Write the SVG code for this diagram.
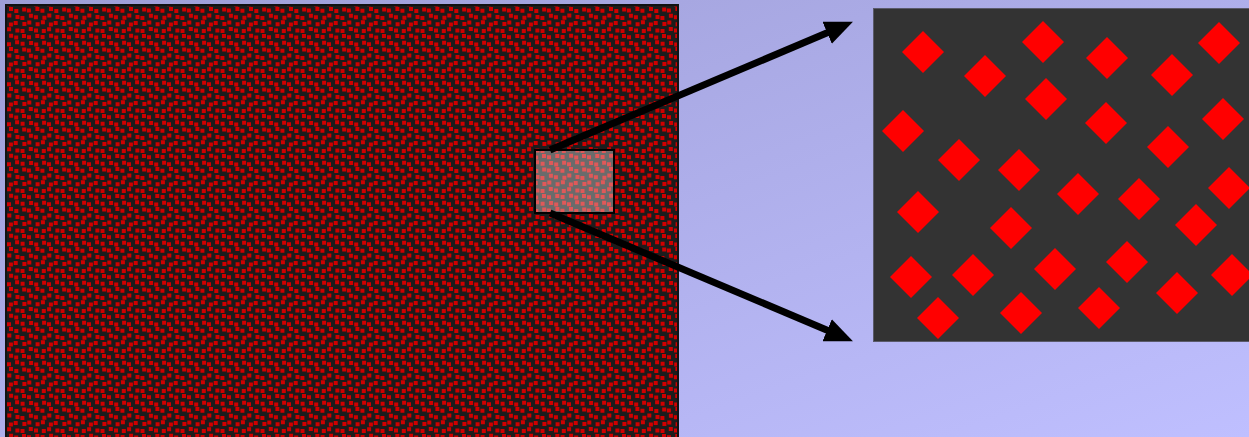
<svg xmlns="http://www.w3.org/2000/svg" width="1249" height="437" viewBox="0 0 1249 437">
  <defs>
    <linearGradient id="bg" x1="0" y1="0" x2="1" y2="1">
      <stop offset="0" stop-color="#9e9ed6"/>
      <stop offset="1" stop-color="#bfbfff"/>
    </linearGradient>
    <filter id="soft" x="-5%" y="-5%" width="110%" height="110%">
      <feGaussianBlur stdDeviation="0.6"/>
    </filter>
    <pattern id="dots" x="0" y="0" width="40" height="40" patternUnits="userSpaceOnUse">
      <rect width="40" height="40" fill="#1c1c1c"/>
      <path filter="url(#soft)" fill="#d00000" d="M2.1 0.8h4v4h-4z M7.0 2.2h4v4h-4z M15.1 0.3h4v4h-4z M20.6 1.7h4v4h-4z M29.1 1.1h4v4h-4z M34.2 2.4h4v4h-4z M0.4 8.7h4v4h-4z M9.0 7.1h4v4h-4z M14.3 9.1h4v4h-4z M22.2 7.6h4v4h-4z M26.9 8.5h4v4h-4z M35.4 7.0h4v4h-4z M2.4 15.7h4v4h-4z M7.3 13.6h4v4h-4z M15.5 14.9h4v4h-4z M20.4 15.9h4v4h-4z M28.9 13.8h4v4h-4z M33.9 15.2h4v4h-4z M0.9 20.3h4v4h-4z M8.9 22.4h4v4h-4z M13.7 21.0h4v4h-4z M22.4 21.9h4v4h-4z M27.3 20.5h4v4h-4z M35.6 22.3h4v4h-4z M1.8 28.9h4v4h-4z M7.1 27.2h4v4h-4z M15.4 28.6h4v4h-4z M20.5 29.0h4v4h-4z M28.8 27.1h4v4h-4z M34.0 28.4h4v4h-4z M0.6 35.1h4v4h-4z M9.1 33.7h4v4h-4z M14.2 35.5h4v4h-4z M22.0 34.0h4v4h-4z M27.0 35.3h4v4h-4z M35.3 33.9h4v4h-4z"/>
    </pattern>
    <polygon id="dia" points="0,-21 21,0 0,21 -21,0" fill="#ff0000"/>
    <marker id="head" viewBox="0 0 28 24" markerUnits="userSpaceOnUse" markerWidth="28" markerHeight="24" refX="2" refY="12" orient="auto">
      <path d="M0,0 L28,12 L0,24 z" fill="#000"/>
    </marker>
    <style>
      .conn { stroke: #000; stroke-width: 7; fill: none; marker-end: url(#head); }
    </style>
  </defs>

  <rect width="1249" height="437" fill="url(#bg)"/>

  <g id="source">
    <rect x="6" y="5" width="672" height="440" fill="url(#dots)" stroke="#111" stroke-width="2"/>
  </g>

  <g id="highlight">
    <rect x="535" y="150" width="79" height="63" fill="#ffffff" fill-opacity="0.35" stroke="#000" stroke-width="2"/>
  </g>

  <g id="zoom-panel">
    <rect x="873.5" y="8.5" width="390" height="333" fill="#333333" stroke="#5a5a6a" stroke-width="1"/>
    <g>
      <use href="#dia" x="923" y="52"/>
      <use href="#dia" x="985" y="76"/>
      <use href="#dia" x="1043" y="42"/>
      <use href="#dia" x="1107" y="58"/>
      <use href="#dia" x="1172" y="75"/>
      <use href="#dia" x="1219" y="43"/>
      <use href="#dia" x="1046" y="99"/>
      <use href="#dia" x="903" y="131"/>
      <use href="#dia" x="959" y="160"/>
      <use href="#dia" x="1019" y="170"/>
      <use href="#dia" x="1106" y="123"/>
      <use href="#dia" x="1168" y="147"/>
      <use href="#dia" x="1223" y="119"/>
      <use href="#dia" x="918" y="212"/>
      <use href="#dia" x="1011" y="228"/>
      <use href="#dia" x="1078" y="194"/>
      <use href="#dia" x="1139" y="199"/>
      <use href="#dia" x="1229" y="188"/>
      <use href="#dia" x="1196" y="225"/>
      <use href="#dia" x="911" y="277"/>
      <use href="#dia" x="973" y="275"/>
      <use href="#dia" x="1055" y="269"/>
      <use href="#dia" x="1127" y="262"/>
      <use href="#dia" x="1177" y="293"/>
      <use href="#dia" x="1232" y="275"/>
      <use href="#dia" x="938" y="318"/>
      <use href="#dia" x="1021" y="313"/>
      <use href="#dia" x="1099" y="308"/>
    </g>
  </g>

  <g id="connectors">
    <line class="conn" x1="550" y1="150" x2="829" y2="32"/>
    <line class="conn" x1="550" y1="213" x2="829" y2="331"/>
  </g>
</svg>
